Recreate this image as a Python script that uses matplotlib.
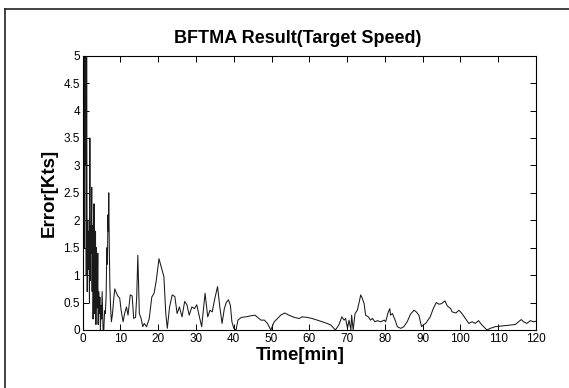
import matplotlib
matplotlib.use("Agg")
import matplotlib.pyplot as plt
from matplotlib.lines import Line2D
import numpy as np

plt.rcParams['font.family'] = ['Liberation Sans', 'DejaVu Sans']

# time [min] and error [kts]
t_early = [0.0, 0.15, 0.3, 0.45, 0.55, 0.7, 0.8, 0.95, 1.05, 1.2, 1.35, 1.5, 1.65, 1.8,
           1.9, 2.0, 2.1, 2.25, 2.4, 2.5, 2.6, 2.75, 2.9, 3.0, 3.1, 3.25, 3.4, 3.5, 3.65,
           3.75, 3.9, 4.0, 4.1, 4.25, 4.4, 4.55, 4.7, 4.85, 5.0, 5.15, 5.3, 5.4, 5.6, 5.8,
           6.0, 6.2, 6.4, 6.55, 6.7, 6.8, 6.9, 7.05, 7.2, 7.4, 7.6, 7.9, 8.2]
e_early = [1.8, 3.8, 5.2, 1.5, 5.3, 3.0, 5.3, 1.0, 5.2, 0.7, 2.0, 1.1, 1.8, 0.5,
           3.5, 0.9, 1.9, 1.4, 2.6, 0.7, 1.9, 0.2, 1.0, 2.3, 0.3, 0.9, 1.8, 0.1, 1.5,
           0.4, 0.7, 1.4, 0.1, 0.7, 0.3, 0.6, 0.0, 0.45, 0.2, 0.7, 0.3, 0.0, 0.0, 0.35,
           0.3, 0.6, 1.5, 1.2, 2.1, 1.8, 2.5, 1.5, 0.8, 0.4, 0.15, 0.3, 0.55]

t_mid = [8.5, 8.9, 9.3, 9.8, 10.2, 10.7, 11.1, 11.6, 12.0, 12.6, 13.1, 13.5, 14.0, 14.3,
         14.6, 15.0, 15.5, 15.9, 16.3, 16.9, 17.6, 18.3, 18.9, 19.5, 20.2, 20.9, 21.5,
         22.0, 22.4, 23.0, 23.7, 24.4, 25.0, 25.6, 26.3, 27.0, 27.6, 28.2, 28.9, 29.6,
         30.2, 30.8, 31.5, 32.4, 33.1, 33.7, 34.3, 35.0, 35.7, 36.3, 36.9, 37.5, 38.0,
         38.6, 39.1, 39.5, 40.0, 40.6]
e_mid = [0.75, 0.68, 0.62, 0.58, 0.35, 0.15, 0.3, 0.42, 0.27, 0.64, 0.62, 0.21, 0.23, 0.6,
         1.36, 0.3, 0.2, 0.06, 0.12, 0.06, 0.2, 0.6, 0.67, 0.91, 1.3, 1.12, 0.97,
         0.3, 0.03, 0.42, 0.64, 0.61, 0.3, 0.42, 0.24, 0.52, 0.46, 0.27, 0.42, 0.39,
         0.46, 0.27, 0.06, 0.67, 0.24, 0.36, 0.33, 0.58, 0.79, 0.42, 0.12, 0.39, 0.5,
         0.55, 0.45, 0.15, 0.03, 0.0]

t_late = [41.1, 42.0, 43.3, 44.6, 45.6, 46.3, 47.2, 48.1, 48.9, 49.8, 50.7, 51.6, 52.4,
          53.5, 54.6, 56.0, 57.3, 58.1, 59.4, 60.7, 62.1, 63.4, 64.7, 65.7, 66.9, 67.8,
          68.6, 69.2, 69.6, 70.1, 70.5, 71.0, 71.2, 71.6, 72.1, 72.7, 73.2, 73.6, 74.0,
          74.5, 74.9, 75.6, 76.2, 76.7, 77.4, 78.0, 78.9, 79.8, 80.2, 80.9, 81.3, 81.5,
          82.0, 82.7, 83.3, 84.2, 85.0, 85.9, 86.8, 87.7, 88.3, 89.0, 89.7, 90.1, 90.8,
          91.4, 92.0, 92.8, 93.6, 94.3, 95.0, 95.9, 96.5, 97.4, 97.8, 98.8, 99.6, 100.4,
          101.3, 102.2, 103.1, 103.9, 104.8, 105.7, 106.6, 107.0, 107.9, 109.2, 110.5,
          111.9, 113.2, 114.5, 115.4, 116.1, 116.7, 117.6, 118.5, 119.4, 120.0]
e_late = [0.18, 0.23, 0.24, 0.26, 0.27, 0.23, 0.18, 0.18, 0.12, 0.0, 0.15, 0.21, 0.27,
          0.31, 0.27, 0.23, 0.21, 0.24, 0.23, 0.21, 0.18, 0.15, 0.12, 0.09, 0.0, 0.09,
          0.24, 0.18, 0.21, 0.03, 0.18, 0.0, 0.27, 0.0, 0.3, 0.36, 0.51, 0.64, 0.58,
          0.48, 0.27, 0.24, 0.18, 0.21, 0.15, 0.17, 0.15, 0.18, 0.15, 0.33, 0.39, 0.27,
          0.3, 0.18, 0.06, 0.03, 0.06, 0.15, 0.29, 0.36, 0.33, 0.27, 0.06, 0.09, 0.12,
          0.18, 0.24, 0.39, 0.5, 0.47, 0.48, 0.53, 0.44, 0.39, 0.33, 0.31, 0.36, 0.3,
          0.21, 0.12, 0.15, 0.12, 0.17, 0.09, 0.03, 0.0, 0.03, 0.06, 0.07,
          0.08, 0.09, 0.1, 0.15, 0.19, 0.15, 0.12, 0.17, 0.15, 0.16]

time = np.array(t_early + t_mid + t_late)
err = np.array(e_early + e_mid + e_late)

fig = plt.figure(figsize=(5.69, 3.88), dpi=100)
ax = fig.add_axes([0.1453, 0.1495, 0.7967, 0.707])
ax.plot(time, err, color='#1a1a1a', linewidth=0.75)

ax.set_xlim(0, 120)
ax.set_ylim(0, 5)
ax.set_xticks(np.arange(0, 121, 10))
ax.set_yticks(np.arange(0, 5.01, 0.5))
ax.set_yticklabels(['0', '0.5', '1', '1.5', '2', '2.5', '3', '3.5', '4', '4.5', '5'])
ax.tick_params(direction='in', top=True, right=True, length=4, width=0.7,
               labelsize=8.5, pad=2)
for s in ax.spines.values():
    s.set_linewidth(0.8)

fig.text(0.524, 0.9, 'BFTMA Result(Target Speed)', fontsize=13, fontweight='bold',
         ha='center', va='center')
# x label placed under the tick labels, slightly left of centre as in the scan
fig.text(0.527, 0.083, 'Time[min]', fontsize=13.5, fontweight='bold',
         ha='center', va='center')
ax.set_ylabel('Error[Kts]', fontsize=13.5, fontweight='bold', labelpad=4)

# page frame around the figure
fig.add_artist(Line2D([0.009, 0.009], [0.0, 0.978], transform=fig.transFigure,
                      color='#222222', linewidth=1.2))
fig.add_artist(Line2D([0.009, 1.0], [0.978, 0.978], transform=fig.transFigure,
                      color='#222222', linewidth=1.2))

fig.savefig('out.png', dpi=100)
